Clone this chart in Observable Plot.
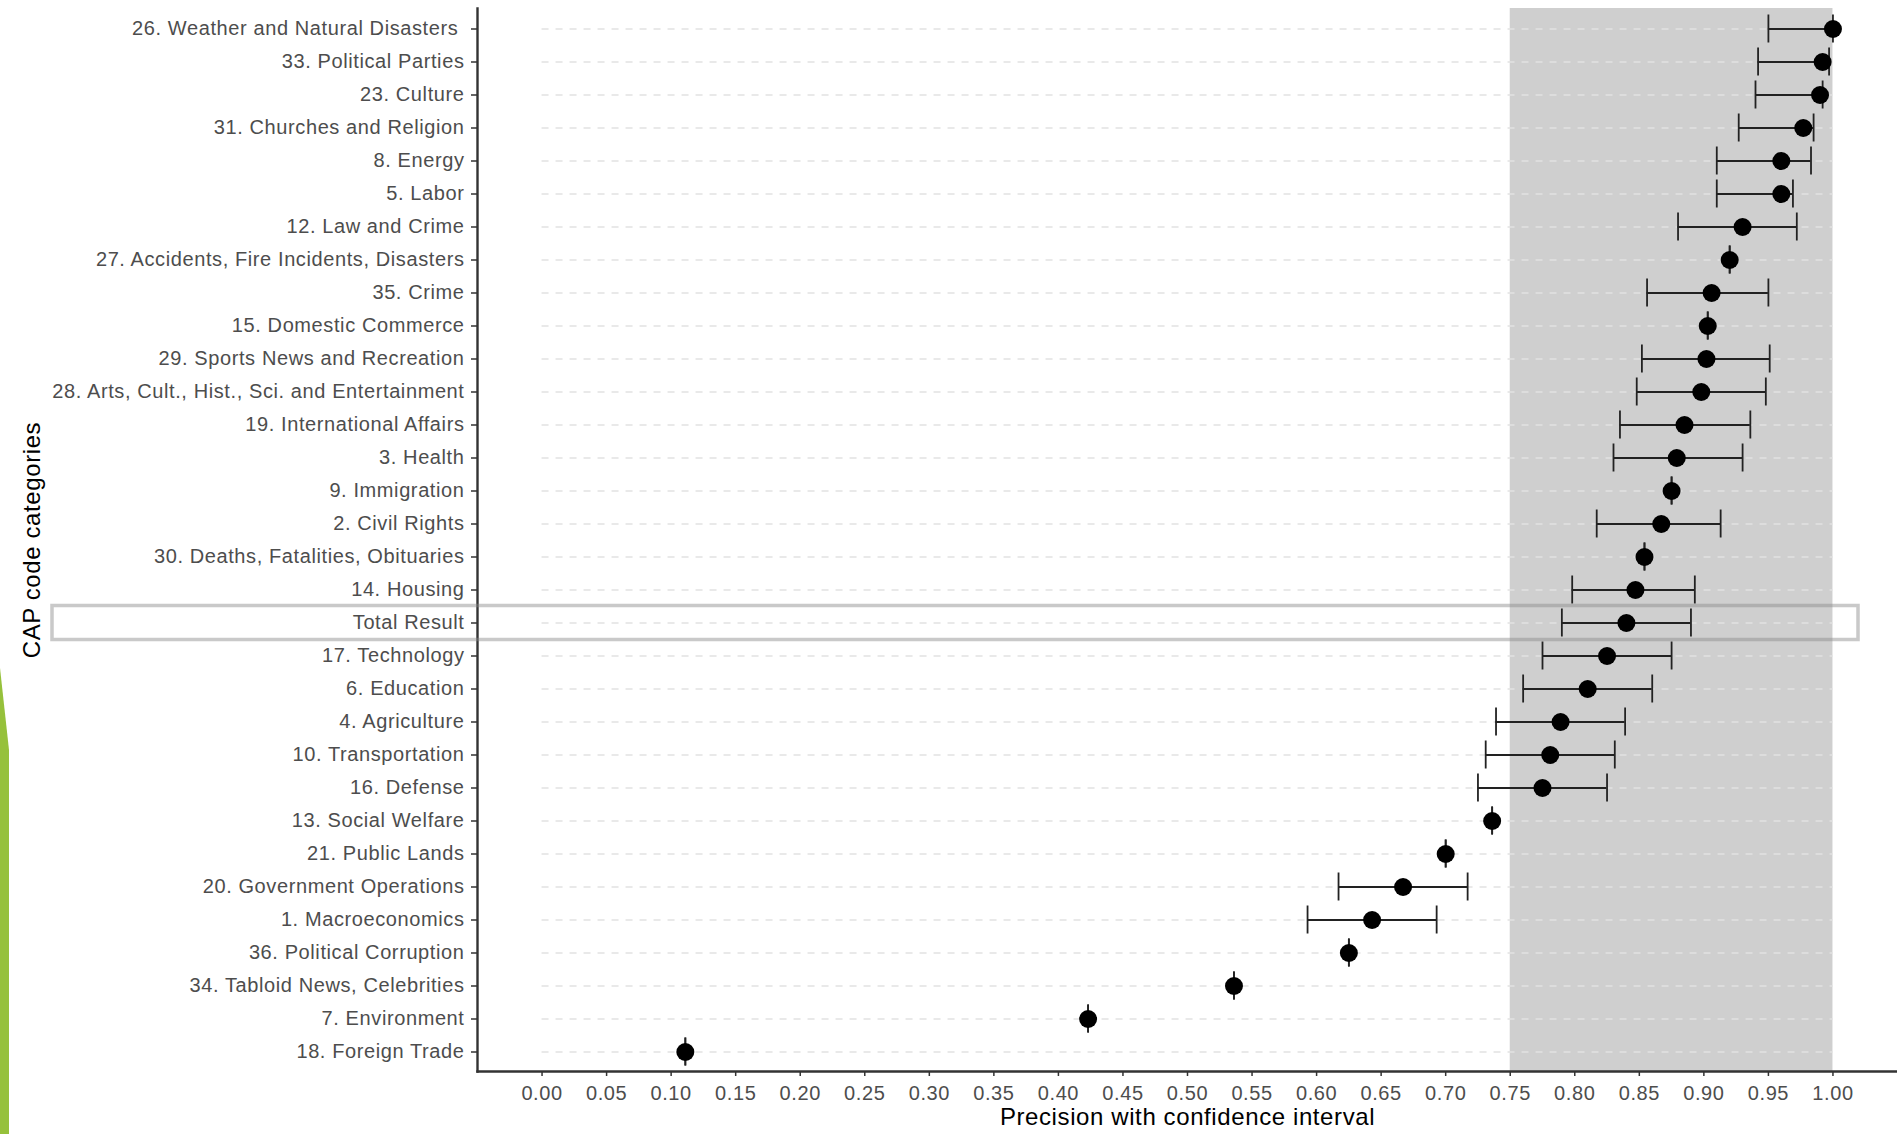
<!DOCTYPE html>
<html>
<head>
<meta charset="utf-8">
<script src="https://cdn.jsdelivr.net/npm/d3@7"></script>
<script src="https://cdn.jsdelivr.net/npm/@observablehq/plot@0.6"></script>
<style>
  html, body { margin: 0; padding: 0; background: #fff; }
  #wrap { position: relative; width: 1897px; height: 1134px; overflow: hidden; }
  #wrap svg text { letter-spacing: 0.6px; }
  #deco { position: absolute; left: 0; top: 0; width: 12px; height: 1134px; background: #96c13b;
          clip-path: polygon(0px 668px, 9px 750px, 9px 1134px, 0px 1134px); }
</style>
</head>
<body>
<div id="wrap"><div id="deco"></div></div>
<script>
const categories = [
  "26. Weather and Natural Disasters\u00a0",
  "33. Political Parties",
  "23. Culture",
  "31. Churches and Religion",
  "8. Energy",
  "5. Labor",
  "12. Law and Crime",
  "27. Accidents, Fire Incidents, Disasters",
  "35. Crime",
  "15. Domestic Commerce",
  "29. Sports News and Recreation",
  "28. Arts, Cult., Hist., Sci. and Entertainment",
  "19. International Affairs",
  "3. Health",
  "9. Immigration",
  "2. Civil Rights",
  "30. Deaths, Fatalities, Obituaries",
  "14. Housing",
  "Total Result",
  "17. Technology",
  "6. Education",
  "4. Agriculture",
  "10. Transportation",
  "16. Defense",
  "13. Social Welfare",
  "21. Public Lands",
  "20. Government Operations",
  "1. Macroeconomics",
  "36. Political Corruption",
  "34. Tabloid News, Celebrities",
  "7. Environment",
  "18. Foreign Trade"
];
const precision = [1.000, 0.992, 0.990, 0.977, 0.960, 0.960, 0.930, 0.920, 0.906, 0.903, 0.902, 0.898,
  0.885, 0.879, 0.875, 0.867, 0.854, 0.847, 0.840, 0.825, 0.810, 0.789, 0.781, 0.775,
  0.736, 0.700, 0.667, 0.643, 0.625, 0.536, 0.423, 0.111];
const lower = [0.950, 0.942, 0.940, 0.927, 0.910, 0.910, 0.880, 0.920, 0.856, 0.903, 0.852, 0.848,
  0.835, 0.830, 0.875, 0.817, 0.854, 0.798, 0.790, 0.775, 0.760, 0.739, 0.731, 0.725,
  0.736, 0.700, 0.617, 0.593, 0.625, 0.536, 0.423, 0.111];
const upper = [1.000, 0.997, 0.992, 0.985, 0.983, 0.969, 0.972, 0.920, 0.950, 0.903, 0.951, 0.948,
  0.936, 0.930, 0.875, 0.913, 0.854, 0.893, 0.890, 0.875, 0.860, 0.839, 0.831, 0.825,
  0.736, 0.700, 0.717, 0.693, 0.625, 0.536, 0.423, 0.111];
const xTicks = [0.00, 0.05, 0.10, 0.15, 0.20, 0.25, 0.30, 0.35, 0.40, 0.45, 0.50,
  0.55, 0.60, 0.65, 0.70, 0.75, 0.80, 0.85, 0.90, 0.95, 1.00];
const xDomain = [-0.05, 1.05];
const band = [{x1: 0.75, x2: 1.00}];
const gridRange = [0, 1];
const highlight = "Total Result";
const xTitle = "Precision with confidence interval";
const yTitle = "CAP code categories";

const data = categories.map((c, i) => ({cat: c, p: precision[i], lo: lower[i], hi: upper[i]}));

const font = "'Liberation Sans', Arial, sans-serif";

const plot = Plot.plot({
  width: 1897,
  height: 1134,
  marginLeft: 477,
  marginRight: 0,
  marginTop: 8,
  marginBottom: 63,
  style: {fontFamily: font, fontSize: "20px", background: "transparent", overflow: "visible"},
  x: {domain: xDomain, axis: null},
  y: {domain: categories, type: "band", paddingInner: 0, paddingOuter: 0, axis: null},
  marks: [
    Plot.rect(band, {x1: "x1", x2: "x2", fill: "#cfcfcf"}),
    Plot.ruleY(categories, {y: d => d, x1: gridRange[0], x2: gridRange[1], stroke: "#e2e2e2", strokeWidth: 1.6, strokeDasharray: "7,7"}),
    Plot.ruleY(data, {y: "cat", x1: "lo", x2: "hi", stroke: "#222", strokeWidth: 1.8}),
    Plot.tickX(data, {y: "cat", x: "lo", stroke: "#222", strokeWidth: 1.8, insetTop: 2.5, insetBottom: 2.5}),
    Plot.tickX(data, {y: "cat", x: "hi", stroke: "#222", strokeWidth: 1.8, insetTop: 2.5, insetBottom: 2.5}),
    Plot.dot(data, {y: "cat", x: "p", r: 9, fill: "#000", stroke: "none"}),
    Plot.axisY({anchor: "left", tickSize: 6, tickPadding: 7, fontSize: 20, fill: "#4d4d4d", stroke: "#333", strokeWidth: 1.5, label: null}),
    Plot.axisX({anchor: "bottom", ticks: xTicks, tickFormat: d3.format(".2f"), tickSize: 5, tickPadding: 9, fontSize: 20, fill: "#4d4d4d", stroke: "#333", strokeWidth: 1.5, label: null}),
    Plot.frame({anchor: "left", stroke: "#333", strokeWidth: 2.4}),
    Plot.frame({anchor: "bottom", stroke: "#333", strokeWidth: 2.4}),
    Plot.text([yTitle], {text: d => d, frameAnchor: "left", dx: -445, rotate: -90, fontSize: 24, fill: "#000", textAnchor: "middle", lineAnchor: "middle"}),
    Plot.text([xTitle], {text: d => d, frameAnchor: "bottom", dy: 46, fontSize: 24, fill: "#000", textAnchor: "middle", lineAnchor: "middle"}),
    Plot.barX([highlight], {y: d => d, x1: xDomain[0], x2: xDomain[1], insetLeft: -425, insetRight: 39, insetTop: -0.5, insetBottom: -0.5,
      fill: "none", stroke: "#888", strokeOpacity: 0.45, strokeWidth: 3.5})
  ]
});
document.getElementById("wrap").insertBefore(plot, document.getElementById("deco"));
plot.style.position = "absolute";
plot.style.left = "0px";
plot.style.top = "0px";
</script>
</body>
</html>
